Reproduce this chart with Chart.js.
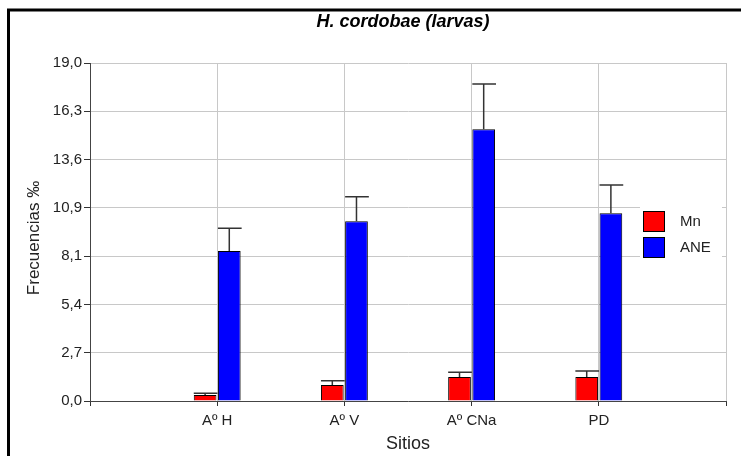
<!DOCTYPE html>
<html>
<head>
	<meta charset="UTF-8">
	<title>H. cordobae (larvas)</title>
	<script src="https://cdn.jsdelivr.net/npm/chart.js"></script>
	<style>
	body{margin:0; background:#fff;}
	#wrap{width:741px; height:456px;}
	</style>
</head>
<body>
	<div id="wrap">
	  <canvas id="myChart" width="741" height="456"></canvas>
	</div>
	<script>
	// sitios de muestreo
	var sitios = ['Aº H', 'Aº V', 'Aº CNa', 'PD'];
	// frecuencias medias y error (solo hacia arriba)
	var mn = [0.34, 0.90, 1.35, 1.35];
	var mnErr = [0.09, 0.24, 0.26, 0.34];
	var ane = [8.43, 10.10, 15.27, 10.55];
	var aneErr = [1.28, 1.38, 2.55, 1.59];
	var yMax = 19;
	var yTickLabels = ['0,0', '2,7', '5,4', '8,1', '10,9', '13,6', '16,3', '19,0'];

	var FONT = 'Arial, "Liberation Sans", sans-serif';

	// categorias vacias a los lados para dejar el margen del eje
	var labels = [''].concat(sitios).concat(['']);
	function pad(arr){ return [null].concat(arr).concat([null]); }

	// marco, titulos y leyenda
	var extras = {
		id: 'extras',
		beforeDraw: function(chart){
			var c = chart.ctx;
			c.save();
			c.fillStyle = '#fff';
			c.fillRect(0, 0, chart.width, chart.height);
			c.restore();
		},
		afterDraw: function(chart){
			var c = chart.ctx;
			var a = chart.chartArea;
			c.save();
			// marco negro
			c.strokeStyle = '#000';
			c.lineWidth = 3;
			c.beginPath();
			c.moveTo(8.5, chart.height);
			c.lineTo(8.5, 10);
			c.lineTo(chart.width, 10);
			c.stroke();

			c.fillStyle = '#000';
			c.textAlign = 'center';
			c.textBaseline = 'alphabetic';
			c.font = 'italic bold 18px ' + FONT;
			c.fillText('H. cordobae (larvas)', 403, 27);

			c.fillStyle = '#222';
			c.font = '18px ' + FONT;
			c.fillText('Sitios', (a.left + a.right) / 2, 449);

			c.save();
			c.translate(39, (a.top + a.bottom) / 2 + 6);
			c.rotate(-Math.PI / 2);
			c.font = '17px ' + FONT;
			c.fillText('Frecuencias ‰', 0, 0);
			c.restore();

			// leyenda
			var lx = 640, ly = 205;
			c.fillStyle = '#fff';
			c.fillRect(lx, ly, 82, 58);
			var items = [[chart.data.datasets[0].label, 'red'], [chart.data.datasets[1].label, 'blue']];
			items.forEach(function(it, i){
				var by = ly + 6 + i * 26;
				c.fillStyle = it[1];
				c.fillRect(lx + 3, by, 22, 21);
				c.strokeStyle = '#000';
				c.lineWidth = 1;
				c.strokeRect(lx + 3.5, by + 0.5, 21, 20);
				c.fillStyle = '#222';
				c.textAlign = 'left';
				c.textBaseline = 'middle';
				c.font = '15px ' + FONT;
				c.fillText(it[0], lx + 40, by + 11);
			});
			c.restore();
		}
	};

	// barras de error superiores
	var errorBars = {
		id: 'errorBars',
		afterDatasetsDraw: function(chart){
			var c = chart.ctx;
			var y = chart.scales.y;
			var errs = [mnErr, aneErr];
			c.save();
			c.strokeStyle = '#333';
			c.lineWidth = 1.5;
			chart.data.datasets.forEach(function(ds, d){
				var meta = chart.getDatasetMeta(d);
				meta.data.forEach(function(bar, i){
					var v = ds.data[i];
					if (v === null) return;
					var top = y.getPixelForValue(v + errs[d][i - 1]);
					var half = bar.width / 2;
					c.beginPath();
					c.moveTo(bar.x, bar.y);
					c.lineTo(bar.x, top);
					c.moveTo(bar.x - half, top);
					c.lineTo(bar.x + half + 1, top);
					c.stroke();
				});
			});
			c.restore();
		}
	};

	const ctx = document.getElementById('myChart');
	new Chart(ctx, {
		type: 'bar',
		data: {
			labels: labels,
			datasets: [{
				label: 'Mn',
				data: pad(mn),
				backgroundColor: 'red',
				borderColor: '#000',
				borderWidth: 1
			}, {
				label: 'ANE',
				data: pad(ane),
				backgroundColor: 'blue',
				borderColor: '#000',
				borderWidth: 1
			}]
		},
		options: {
			responsive: false,
			animation: false,
			events: [],
			categoryPercentage: 0.38,
			barPercentage: 0.94,
			layout: { padding: { left: 0, right: 15, top: 63, bottom: 0 } },
			plugins: {
				legend: { display: false },
				title: { display: false },
				tooltip: { enabled: false }
			},
			scales: {
				x: {
					offset: false,
					grid: { offset: false, color: '#c8c8c8', tickColor: '#333', tickLength: 5, lineWidth: 1 },
					border: { color: '#444', width: 1 },
					ticks: { color: '#222', font: { family: FONT, size: 15 }, padding: 6, maxRotation: 0, autoSkip: false },
					afterFit: function(s){ s.height = 55; }
				},
				y: {
					min: 0,
					max: yMax,
					grid: { color: '#c8c8c8', tickColor: '#333', tickLength: 6, lineWidth: 1 },
					border: { color: '#444', width: 1 },
					ticks: {
						color: '#222',
						font: { family: FONT, size: 15 },
						padding: 2,
						callback: function(v, i){ return yTickLabels[i]; }
					},
					afterBuildTicks: function(s){
						s.ticks = yTickLabels.map(function(_, i){
							return { value: i * yMax / (yTickLabels.length - 1) };
						});
					},
					afterFit: function(s){ s.width = 90; }
				}
			}
		},
		plugins: [extras, errorBars]
	});
	</script>
</body>
</html>
